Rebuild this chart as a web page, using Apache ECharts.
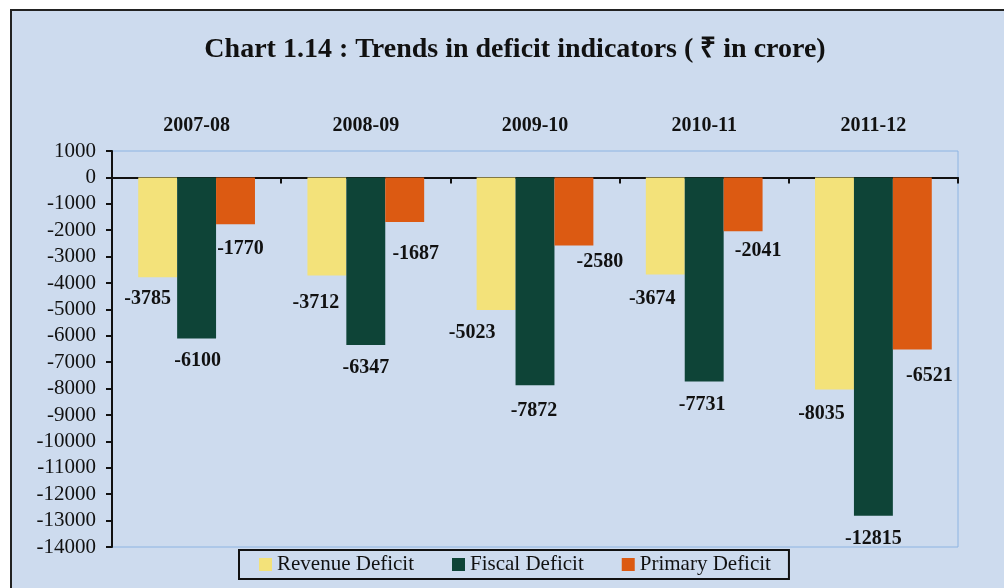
<!DOCTYPE html>
<html>
<head>
<meta charset="utf-8">
<script src="https://cdn.jsdelivr.net/npm/echarts@6/dist/echarts.min.js"></script>
<style>
html,body{margin:0;padding:0;background:#ffffff;}
#chart{width:1004px;height:588px;}
</style>
</head>
<body>
<div id="chart"></div>
<script>
const categories = ['2007-08', '2008-09', '2009-10', '2010-11', '2011-12'];
const revenueDeficit = [-3785, -3712, -5023, -3674, -8035];
const fiscalDeficit = [-6100, -6347, -7872, -7731, -12815];
const primaryDeficit = [-1770, -1687, -2580, -2041, -6521];
const seriesNames = ['Revenue Deficit', 'Fiscal Deficit', 'Primary Deficit'];
const yMin = -14000, yMax = 1000, yStep = 1000;

// label nudges (styling only): [dx, dy] per bar
const labelNudge = [
  [[-10, 12], [-11, 17], [-24, 13], [-13, 14], [-13, 14]],
  [[1, 12], [0, 13], [-1, 16], [-2, 13], [0, 13]],
  [[5, 15], [11, 22], [26, 6], [15, 10], [17, 16]]
];
const colors = ['#f3e27a', '#0e4437', '#dc5a12'];
const FONT = "'Liberation Serif', 'Times New Roman', serif";

const chart = echarts.init(document.getElementById('chart'), null, {renderer: 'canvas'});

function makeSeries(name, values, idx) {
  return {
    name: name,
    type: 'bar',
    barGap: '0%',
    barCategoryGap: '31%',
    itemStyle: {color: colors[idx]},
    data: values.map((v, i) => ({
      value: v,
      label: {offset: labelNudge[idx][i]}
    })),
    label: {
      show: true,
      position: 'bottom',
      distance: 0,
      fontFamily: FONT,
      fontSize: 20,
      fontWeight: 'bold',
      color: '#111'
    }
  };
}

chart.setOption({
  animation: false,
  backgroundColor: 'transparent',
  graphic: [{
    type: 'rect',
    z: -10,
    shape: {x: 11, y: 10, width: 1010, height: 600},
    style: {fill: '#cddbee', stroke: '#222', lineWidth: 2}
  }],
  title: {
    text: 'Chart 1.14 : Trends in deficit indicators ( \u20B9 in crore)',
    left: 510,
    textAlign: 'center',
    top: 31,
    textStyle: {fontFamily: FONT, fontSize: 28, fontWeight: 'bold', color: '#111'}
  },
  legend: {
    left: 239,
    top: 550,
    padding: [4, 18, 4, 20],
    itemWidth: 13,
    itemHeight: 13,
    itemGap: 38,
    icon: 'rect',
    borderColor: '#111',
    borderWidth: 2,
    textStyle: {fontFamily: FONT, fontSize: 21, color: '#111'},
    data: seriesNames
  },
  grid: {
    left: 112, right: 46, top: 151, bottom: 41,
    show: true,
    borderColor: '#8db4e2',
    borderWidth: 1,
    backgroundColor: 'transparent'
  },
  xAxis: {
    type: 'category',
    position: 'top',
    data: categories,
    axisLine: {show: true, onZero: true, lineStyle: {color: '#111', width: 2}},
    axisTick: {show: true, inside: true, length: 6, lineStyle: {color: '#111', width: 2}},
    axisLabel: {margin: 15, fontFamily: FONT, fontSize: 20, fontWeight: 'bold', color: '#111'},
    splitLine: {show: false}
  },
  yAxis: {
    type: 'value',
    min: yMin,
    max: yMax,
    interval: yStep,
    axisLine: {show: true, lineStyle: {color: '#111', width: 2}},
    axisTick: {show: true, length: 6, lineStyle: {color: '#111', width: 2}},
    axisLabel: {margin: 16, fontFamily: FONT, fontSize: 21, color: '#111', formatter: v => String(v)},
    splitLine: {show: false}
  },
  series: [
    makeSeries(seriesNames[0], revenueDeficit, 0),
    makeSeries(seriesNames[1], fiscalDeficit, 1),
    makeSeries(seriesNames[2], primaryDeficit, 2)
  ]
});
</script>
</body>
</html>
